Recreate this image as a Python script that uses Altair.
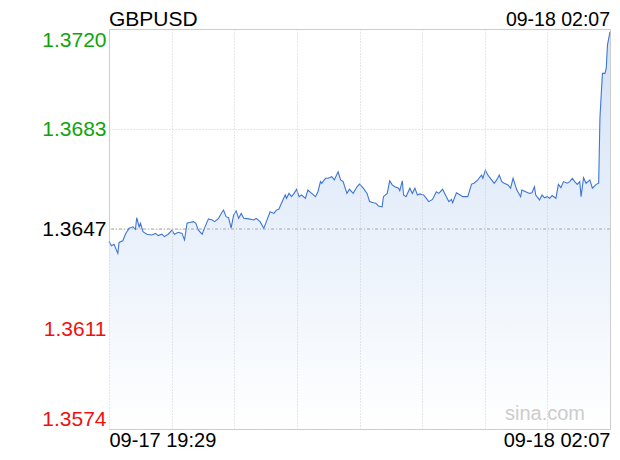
import altair as alt
import pandas as pd

symbol = "GBPUSD"
stamp = "09-18 02:07"
start_label = "09-17 19:29"
end_label = "09-18 02:07"
watermark = "sina.com"
prev_close = 1.3647

# minutes since 09-17 19:29
minutes = [0, 2, 4, 7, 8, 11, 13, 16, 19, 21, 22, 24, 25, 27, 30, 34, 37, 39, 42, 44,
           47, 50, 52, 55, 58, 60, 62, 64, 67, 69, 71, 74, 76, 79, 82, 84, 87, 90, 91, 93,
           95, 97, 99, 101, 103, 105, 107, 111, 115, 117, 120, 123, 125, 128, 131, 133, 135, 137, 140, 141,
           143, 145, 147, 149, 151, 153, 156, 158, 161, 164, 166, 168, 169, 172, 174, 177, 179, 182, 184, 186,
           189, 191, 194, 197, 199, 202, 205, 207, 210, 212, 214, 217, 218, 221, 223, 225, 227, 230, 231, 233,
           234, 236, 239, 241, 243, 245, 247, 250, 253, 254, 257, 260, 262, 265, 268, 270, 272, 273, 276, 279,
           281, 283, 285, 288, 290, 293, 296, 297, 299, 301, 303, 306, 308, 310, 312, 314, 317, 319, 321, 324,
           327, 328, 331, 334, 336, 338, 339, 342, 344, 346, 348, 350, 352, 355, 357, 359, 361, 364, 366, 368,
           370, 372, 374, 375, 377, 379, 382, 384, 387, 389, 390, 391, 392, 394, 395, 396, 398]

prices = [1.36424, 1.36409, 1.36414, 1.36381, 1.36421, 1.36427, 1.36451, 1.36473, 1.36478, 1.36469,
          1.36511, 1.36478, 1.36491, 1.36460, 1.36451, 1.36448, 1.36454, 1.36446, 1.36451, 1.36442,
          1.36451, 1.36466, 1.36451, 1.36458, 1.36454, 1.36430, 1.36491, 1.36494, 1.36497, 1.36491,
          1.36466, 1.36451, 1.36475, 1.36507, 1.36503, 1.36497, 1.36509, 1.36533, 1.36539, 1.36515,
          1.36511, 1.36473, 1.36521, 1.36536, 1.36509, 1.36527, 1.36509, 1.36507, 1.36503, 1.36509,
          1.36497, 1.36473, 1.36497, 1.36533, 1.36527, 1.36539, 1.36543, 1.36564, 1.36594, 1.36582,
          1.36600, 1.36588, 1.36600, 1.36615, 1.36588, 1.36594, 1.36582, 1.36612, 1.36600, 1.36588,
          1.36606, 1.36643, 1.36637, 1.36655, 1.36655, 1.36661, 1.36649, 1.36679, 1.36649, 1.36643,
          1.36600, 1.36615, 1.36600, 1.36624, 1.36634, 1.36619, 1.36600, 1.36570, 1.36566, 1.36564,
          1.36554, 1.36551, 1.36588, 1.36600, 1.36646, 1.36631, 1.36624, 1.36619, 1.36610, 1.36646,
          1.36594, 1.36588, 1.36619, 1.36600, 1.36619, 1.36594, 1.36598, 1.36594, 1.36576, 1.36570,
          1.36578, 1.36606, 1.36600, 1.36615, 1.36588, 1.36570, 1.36578, 1.36566, 1.36602, 1.36594,
          1.36588, 1.36588, 1.36588, 1.36634, 1.36637, 1.36649, 1.36667, 1.36655, 1.36685, 1.36667,
          1.36655, 1.36637, 1.36649, 1.36667, 1.36643, 1.36637, 1.36631, 1.36619, 1.36655, 1.36612,
          1.36588, 1.36612, 1.36606, 1.36600, 1.36602, 1.36624, 1.36594, 1.36576, 1.36594, 1.36584,
          1.36588, 1.36582, 1.36592, 1.36582, 1.36633, 1.36621, 1.36643, 1.36637, 1.36643, 1.36655,
          1.36643, 1.36633, 1.36643, 1.36588, 1.36657, 1.36637, 1.36649, 1.36619, 1.36633, 1.36637,
          1.36874, 1.36959, 1.37038, 1.37038, 1.37057, 1.37142, 1.37190]

y_ticks = [1.3574, 1.36105, 1.3647, 1.36835, 1.3720]
y_tick_labels = ["1.3574", "1.3611", "1.3647", "1.3683", "1.3720"]
x_ticks = [0, 49.75, 99.5, 149.25, 199, 248.75, 298.5, 348.25, 398]

W, H = 501, 400
FONT = "Liberation Sans"

df = pd.DataFrame({"t": minutes, "p": prices})

label_expr = " : ".join(
    f"abs(datum.value - {v}) < 0.00001 ? '{s}'" for v, s in zip(y_ticks, y_tick_labels)
) + " : ''"

x_scale = alt.Scale(domain=[0, 398], nice=False, zero=False)
y_scale = alt.Scale(domain=[y_ticks[0], y_ticks[-1]], nice=False, zero=False)

x_enc = alt.X("t:Q", scale=x_scale, axis=alt.Axis(
    values=x_ticks, title=None, ticks=False, domain=False,
    grid=True, gridColor="#cfcfcf", gridDash=[1, 2],
    labelExpr=f"datum.value == 0 ? '{start_label}' : datum.value == 398 ? '{end_label}' : ''",
    labelFlush=True, labelFontSize=20, labelFont=FONT, labelColor="#000000",
    labelPadding=1, zindex=2))

y_enc = alt.Y("p:Q", scale=y_scale, axis=alt.Axis(
    values=y_ticks, title=None, ticks=False, domain=False,
    grid=True, gridColor="#cfcfcf", gridDash=[1, 2],
    labelExpr=label_expr, labelFlush=True, labelFontSize=21, labelFont=FONT,
    labelPadding=3,
    labelColor={"condition": [
        {"test": f"datum.value > {prev_close + 0.00001}", "value": "#0ea40e"},
        {"test": f"datum.value < {prev_close - 0.00001}", "value": "#f01010"}],
        "value": "#000000"}))

grad = alt.Gradient(gradient="linear",
                    stops=[alt.GradientStop(color="#ffffff", offset=0),
                           alt.GradientStop(color="#d3e2f7", offset=1)],
                    x1=1, x2=1, y1=1, y2=0)

area = alt.Chart(df).mark_area(fill=grad, fillOpacity=1).encode(
    x=x_enc, y=y_enc, y2=alt.datum(y_ticks[0]))

line = alt.Chart(df).mark_line(color="#3f76d2", strokeWidth=1.1).encode(
    x=alt.X("t:Q", scale=x_scale), y=alt.Y("p:Q", scale=y_scale))

rule = alt.Chart(pd.DataFrame({"p": [prev_close]})).mark_rule(
    color="#a8a8a8", strokeDash=[3, 2, 1, 2], strokeWidth=1
).encode(y=alt.Y("p:Q", scale=y_scale))

title = alt.Chart(pd.DataFrame({"s": [symbol]})).mark_text(
    align="left", baseline="middle", fontSize=21, font=FONT, color="#000000"
).encode(text="s:N", x=alt.value(0), y=alt.value(-9))

stamp_t = alt.Chart(pd.DataFrame({"s": [stamp]})).mark_text(
    align="right", baseline="middle", fontSize=19.5, font=FONT, color="#000000"
).encode(text="s:N", x=alt.value(W), y=alt.value(-9))

wm = alt.Chart(pd.DataFrame({"s": [watermark]})).mark_text(
    align="right", baseline="middle", fontSize=20, font=FONT, color="#cccccc"
).encode(text="s:N", x=alt.value(476), y=alt.value(385))

chart = alt.layer(area, rule, line, wm, title, stamp_t).properties(
    width=W, height=H,
    autosize=alt.AutoSizeParams(type="none"),
    padding={"left": 101, "top": 21, "right": 1, "bottom": 21},
).configure_view(stroke="#cccccc", strokeWidth=1)

chart.save("out.html", embed_options={"renderer": "svg", "actions": False})
